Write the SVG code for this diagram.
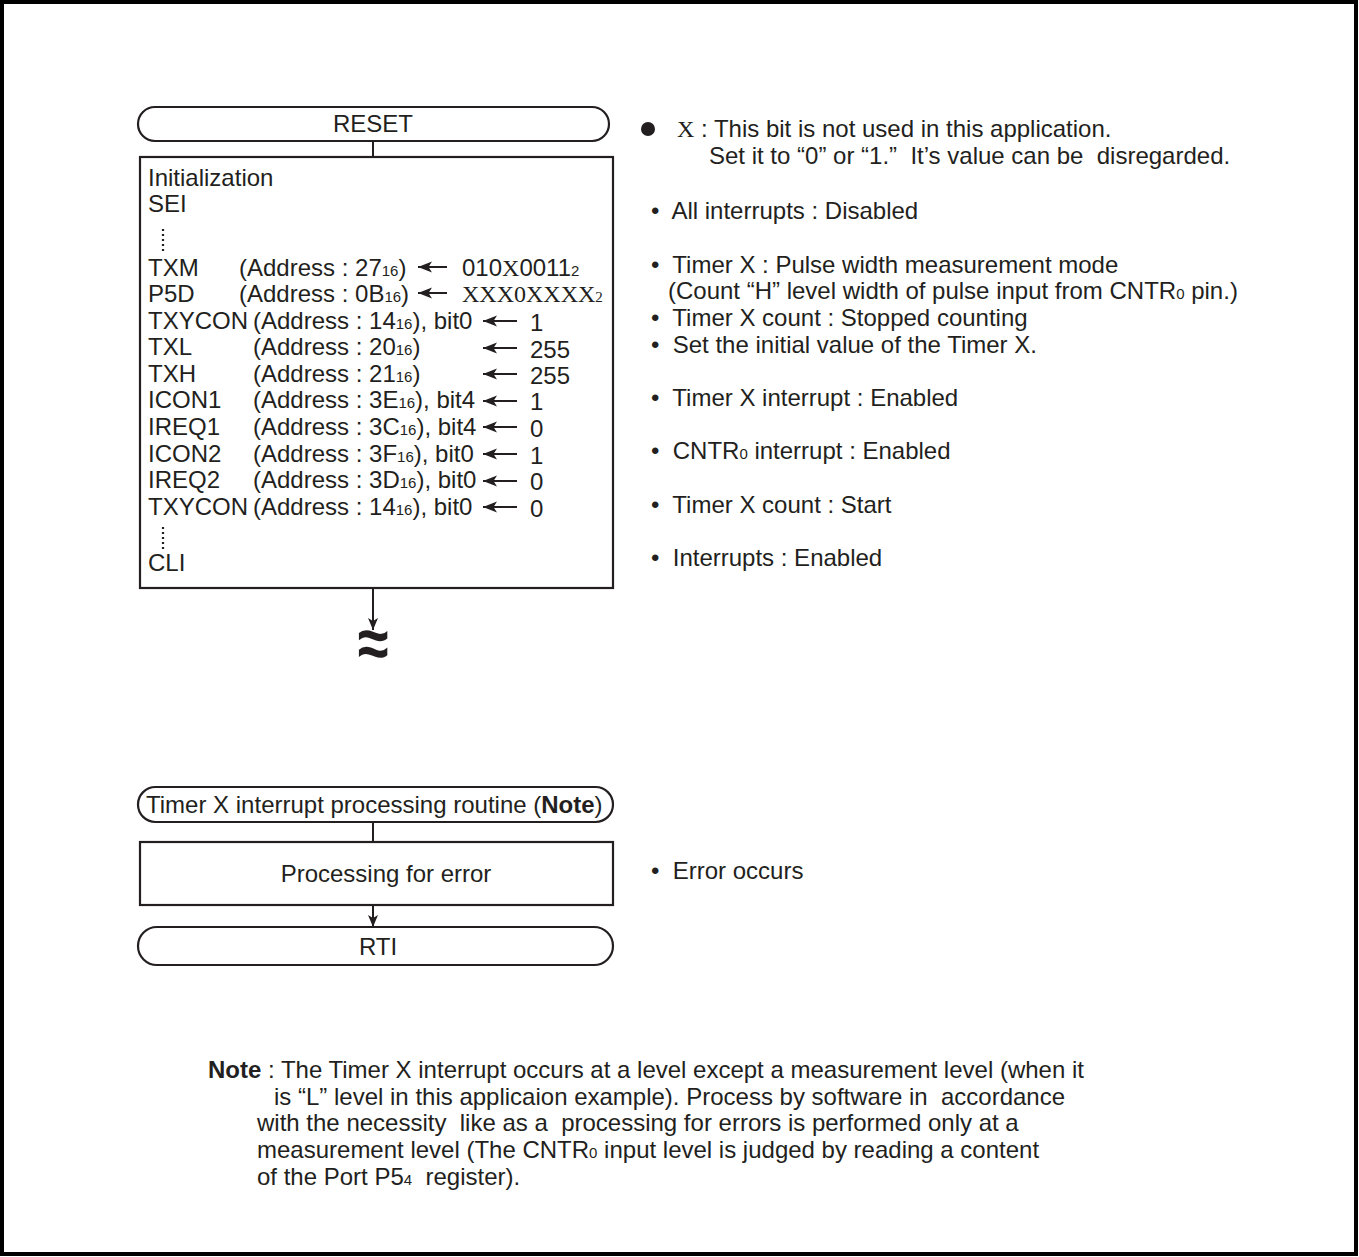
<svg xmlns="http://www.w3.org/2000/svg" width="1359" height="1257" viewBox="0 0 1359 1257">
<style>
text{font-family:"Liberation Sans",Arial,sans-serif;font-size:24px;fill:#231f20;white-space:pre}
.serif{font-family:"Liberation Serif","Times New Roman",serif}
.sub{font-size:15px}
.b{font-weight:bold}
.shape{fill:#fff;stroke:#231f20;stroke-width:2.2}
.ln{stroke:#231f20;stroke-width:2;fill:none}
.c{text-anchor:middle}
.brk{font-size:56px;font-weight:bold;text-anchor:middle}
</style>
<defs>
<marker id="ah" viewBox="0 0 12 12" refX="12" refY="6" markerWidth="12" markerHeight="12" markerUnits="userSpaceOnUse" orient="auto">
<path d="M0,1 L12,6 L0,11 L3,6 Z" fill="#231f20"/>
</marker>
<marker id="al" viewBox="0 0 14 12" refX="14" refY="6" markerWidth="14" markerHeight="12" markerUnits="userSpaceOnUse" orient="auto">
<path d="M0,0.5 L14,6 L0,11.5 L3.5,6 Z" fill="#231f20"/>
</marker>
</defs>
<rect x="2" y="2" width="1354" height="1252" fill="#fff" stroke="#000" stroke-width="4"/>

<g id="connectors">
<line class="ln" x1="373" y1="141" x2="373" y2="157"/>
<line class="ln" x1="373" y1="588" x2="373" y2="630" marker-end="url(#ah)"/>
<line class="ln" x1="373" y1="822" x2="373" y2="842"/>
<line class="ln" x1="373" y1="905" x2="373" y2="927" marker-end="url(#ah)"/>
</g>

<g id="reset">
<rect class="shape" x="138" y="107" width="471" height="34" rx="17"/>
<text class="c" x="373" y="132">RESET</text>
</g>

<g id="init">
<rect class="shape" x="140" y="157" width="473" height="431"/>
<text x="148" y="186">Initialization</text>
<text x="148" y="212">SEI</text>
<line x1="163" y1="229" x2="163" y2="251" stroke="#231f20" stroke-width="2.2" stroke-dasharray="2 3"/>
<text x="148" y="276">TXM</text>
<text x="239" y="276">(Address : 27<tspan class="sub">16</tspan>)</text>
<line class="ln" x1="447" y1="267" x2="418" y2="267" marker-end="url(#al)"/>
<text x="462" y="276">010<tspan class="serif">X</tspan>0011<tspan class="sub">2</tspan></text>
<text x="148" y="302">P5D</text>
<text x="239" y="302">(Address : 0B<tspan class="sub">16</tspan>)</text>
<line class="ln" x1="447" y1="293" x2="418" y2="293" marker-end="url(#al)"/>
<text x="462" y="302" class="serif">XXX0XXXX<tspan class="sub">2</tspan></text>
<text x="148" y="329">TXYCON</text>
<text x="253" y="329">(Address : 14<tspan class="sub">16</tspan>), bit0</text>
<line class="ln" x1="517" y1="321" x2="483" y2="321" marker-end="url(#al)"/>
<text x="530" y="331">1</text>
<text x="148" y="355">TXL</text>
<text x="253" y="355">(Address : 20<tspan class="sub">16</tspan>)</text>
<line class="ln" x1="517" y1="348" x2="483" y2="348" marker-end="url(#al)"/>
<text x="530" y="358">255</text>
<text x="148" y="382">TXH</text>
<text x="253" y="382">(Address : 21<tspan class="sub">16</tspan>)</text>
<line class="ln" x1="517" y1="374" x2="483" y2="374" marker-end="url(#al)"/>
<text x="530" y="384">255</text>
<text x="148" y="408">ICON1</text>
<text x="253" y="408">(Address : 3E<tspan class="sub">16</tspan>), bit4</text>
<line class="ln" x1="517" y1="401" x2="483" y2="401" marker-end="url(#al)"/>
<text x="530" y="410">1</text>
<text x="148" y="435">IREQ1</text>
<text x="253" y="435">(Address : 3C<tspan class="sub">16</tspan>), bit4</text>
<line class="ln" x1="517" y1="427" x2="483" y2="427" marker-end="url(#al)"/>
<text x="530" y="437">0</text>
<text x="148" y="462">ICON2</text>
<text x="253" y="462">(Address : 3F<tspan class="sub">16</tspan>), bit0</text>
<line class="ln" x1="517" y1="454" x2="483" y2="454" marker-end="url(#al)"/>
<text x="530" y="464">1</text>
<text x="148" y="488">IREQ2</text>
<text x="253" y="488">(Address : 3D<tspan class="sub">16</tspan>), bit0</text>
<line class="ln" x1="517" y1="481" x2="483" y2="481" marker-end="url(#al)"/>
<text x="530" y="490">0</text>
<text x="148" y="515">TXYCON</text>
<text x="253" y="515">(Address : 14<tspan class="sub">16</tspan>), bit0</text>
<line class="ln" x1="517" y1="507" x2="483" y2="507" marker-end="url(#al)"/>
<text x="530" y="517">0</text>
<line x1="163" y1="527" x2="163" y2="549" stroke="#231f20" stroke-width="2.2" stroke-dasharray="2 3"/>
<text x="148" y="571">CLI</text>
</g>

<g id="break">
<text class="brk" transform="translate(373,667) scale(1,1.25)" x="0" y="0">≈</text>
</g>

<g id="timerx">
<rect class="shape" x="138" y="787" width="475" height="35" rx="17.5"/>
<text x="146" y="813">Timer X interrupt processing routine (<tspan class="b">Note</tspan>)</text>
</g>

<g id="error">
<rect class="shape" x="140" y="842" width="473" height="63"/>
<text class="c" x="386" y="882">Processing for error</text>
</g>

<g id="rti">
<rect class="shape" x="138" y="927" width="475" height="38" rx="19"/>
<text class="c" x="378" y="955">RTI</text>
</g>

<g id="comments">
<circle cx="648" cy="129" r="7" fill="#231f20"/>
<text x="677" y="137"><tspan class="serif">X</tspan> : This bit is not used in this application.</text>
<text x="709" y="164">Set it to “0” or “1.”  It’s value can be  disregarded.</text>
<text x="651" y="219">•  All interrupts : Disabled</text>
<text x="651" y="273">•  Timer X : Pulse width measurement mode</text>
<text x="668" y="299">(Count “H” level width of pulse input from CNTR<tspan class="sub">0</tspan> pin.)</text>
<text x="651" y="326">•  Timer X count : Stopped counting</text>
<text x="651" y="353">•  Set the initial value of the Timer X.</text>
<text x="651" y="406">•  Timer X interrupt : Enabled</text>
<text x="651" y="459">•  CNTR<tspan class="sub">0</tspan> interrupt : Enabled</text>
<text x="651" y="513">•  Timer X count : Start</text>
<text x="651" y="566">•  Interrupts : Enabled</text>
<text x="651" y="879">•  Error occurs</text>
</g>

<g id="note">
<text x="208" y="1078"><tspan class="b">Note</tspan> : The Timer X interrupt occurs at a level except a measurement level (when it</text>
<text x="274" y="1105">is “L” level in this applicaion example). Process by software in  accordance</text>
<text x="257" y="1131">with the necessity  like as a  processing for errors is performed only at a</text>
<text x="257" y="1158">measurement level (The CNTR<tspan class="sub">0</tspan> input level is judged by reading a content</text>
<text x="257" y="1185">of the Port P5<tspan class="sub">4</tspan>  register).</text>
</g>
</svg>
